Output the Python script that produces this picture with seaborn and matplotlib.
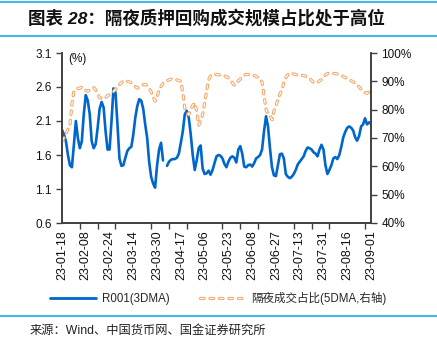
import numpy as np
import pandas as pd
import matplotlib
matplotlib.use("Agg")
import matplotlib.pyplot as plt
import seaborn as sns
from matplotlib.lines import Line2D
from matplotlib.ticker import FuncFormatter

date_labels = ["23-01-18", "23-02-08", "23-02-24", "23-03-14", "23-03-30", "23-04-17",
               "23-05-06", "23-05-23", "23-06-08", "23-06-27", "23-07-13", "23-07-31",
               "23-08-16", "23-09-01"]

r001 = [1.97, 1.90, 1.80, 1.60, 1.45, 1.42, 1.75, 2.10, 1.85, 1.70,
        1.80, 2.20, 2.48, 2.40, 2.20, 1.80, 1.70, 1.76, 2.00, 2.28,
        2.38, 2.30, 1.95, 1.68, 1.68, 2.10, 2.58, 2.52, 2.05, 1.55,
        1.44, 1.45, 1.56, 1.66, 1.70, 1.72, 1.90, 2.15, 2.32, 2.42,
        2.40, 2.28, 2.05, 1.85, 1.50, 1.28, 1.18, 1.12, 1.45, 1.68,
        1.78, 1.52, np.nan, 1.44, 1.50, 1.53, 1.54, 1.54, 1.56, 1.62,
        1.78, 1.95, 2.20, 2.25, 2.15, 1.90, 1.60, 1.38, 1.52, 1.70,
        1.74, 1.40, 1.32, 1.33, 1.37, 1.31, 1.38, 1.48, 1.58, 1.60,
        1.59, 1.55, 1.47, 1.42, 1.50, 1.56, 1.58, 1.56, 1.49, 1.68,
        1.73, 1.62, 1.43, 1.42, 1.45, 1.46, 1.43, 1.48, 1.55, 1.57,
        1.60, 1.68, 1.95, 2.17, 2.02, 1.70, 1.42, 1.30, 1.29, 1.45,
        1.61, 1.62, 1.55, 1.32, 1.28, 1.26, 1.28, 1.32, 1.38, 1.46,
        1.50, 1.54, 1.58, 1.66, 1.71, 1.70, 1.68, 1.64, 1.62, 1.58,
        1.68, 1.75, 1.68, 1.45, 1.32, 1.38, 1.45, 1.55, 1.57, 1.54,
        1.60, 1.72, 1.86, 1.94, 2.00, 2.02, 2.00, 1.96, 1.86, 1.81,
        1.88, 2.02, 2.05, 2.14, 2.05, 2.08, 2.06]

share = [69.0, 70.0, 71.5, 73.0, 74.5, 82.0, 86.5, 87.0, 87.5, 87.6,
         88.0, 87.5, 86.8, 86.5, 87.0, 87.6, 87.8, 87.0, 85.5, 84.2,
         84.0, 83.8, 84.2, 85.0, 85.3, 85.8, 86.4, 87.2, 88.2, 88.8,
         89.5, 90.1, 90.3, 90.0, 89.8, 89.5, 89.0, 88.2, 87.6, 87.8,
         88.3, 88.8, 88.9, 88.5, 87.5, 86.3, 84.5, 83.0, 84.5, 87.0,
         88.2, 89.2, 89.8, 90.2, 90.5, 90.8, 90.9, 90.8, 90.5, 90.3,
         90.0, 86.0, 80.5, 79.0, 78.2, 80.0, 81.5, 82.4, 79.6, 74.5,
         76.0, 78.2, 82.4, 86.5, 90.5, 92.0, 92.4, 92.5, 92.4, 92.3,
         92.2, 92.1, 92.0, 91.6, 91.2, 90.5, 89.5, 88.6, 89.2, 90.2,
         90.8, 91.6, 92.2, 92.4, 92.4, 92.4, 92.3, 92.0, 91.7, 91.4,
         90.8, 89.7, 85.0, 80.0, 78.5, 78.0, 76.5, 79.5, 81.5, 83.5,
         85.5, 87.0, 89.5, 91.2, 92.3, 92.9, 92.8, 92.6, 92.4, 92.3,
         92.2, 92.1, 92.0, 91.8, 91.6, 91.0, 90.3, 89.6, 89.3, 89.6,
         90.2, 90.6, 91.4, 92.2, 92.8, 92.9, 92.9, 92.8, 92.7, 92.6,
         92.4, 92.1, 91.7, 91.3, 91.0, 90.6, 90.2, 89.8, 89.4, 88.8,
         88.0, 87.2, 86.5, 86.0, 85.8, 86.3, 86.8]

BLUE = "#0066CC"
ORANGE = "#F5A25D"
RULE = "#45B8E8"
AXC = "#404040"

sns.set_style("white")
plt.rcParams['font.family'] = ['Liberation Sans', 'Noto Sans CJK SC']
plt.rcParams['lines.scale_dashes'] = False
plt.rcParams['axes.unicode_minus'] = False

W, H = 437, 337
fig = plt.figure(figsize=(W / 100, H / 100), dpi=100)
ax = fig.add_axes([62 / W, 1 - 223 / H, (371 - 62) / W, (223 - 53) / H])
ax2 = ax.twinx()

n = len(r001)
idx = np.arange(n)
seg = np.cumsum(np.isnan(np.array(r001, dtype=float)))
df = pd.DataFrame({"idx": idx, "r001": r001, "share": share, "seg": seg})
dfb = df.dropna(subset=["r001"])

sns.lineplot(data=dfb, x="idx", y="r001", units="seg", estimator=None, ax=ax,
             color=BLUE, linewidth=1.9, legend=False)

dash = (0, (2.6, 4.2))
sns.lineplot(data=df, x="idx", y="share", ax=ax2, color=ORANGE, linewidth=2.3, legend=False)
lo = ax2.lines[-1]
lo.set_linestyle(dash)
lo.set_dash_capstyle("round")
sns.lineplot(data=df, x="idx", y="share", ax=ax2, color="white", linewidth=0.9, legend=False)
lw_ = ax2.lines[-1]
lw_.set_linestyle(dash)
lw_.set_dash_capstyle("round")

ax.set_xlim(0, n - 1)
ax.set_ylim(0.6, 3.1)
ax.set_yticks(np.arange(0.6, 3.11, 0.5))
ax.yaxis.set_major_formatter(FuncFormatter(lambda v, p: f"{v:.1f}"))
ax2.set_ylim(40, 100)
ax2.set_yticks(np.arange(40, 101, 10))
ax2.yaxis.set_major_formatter(FuncFormatter(lambda v, p: f"{int(round(v))}%"))

ax.set_xticks(np.arange(0, n, 12))
ax.set_xticklabels(date_labels, rotation=90)
ax.set_xticks(np.arange(0, n - 2, 9), minor=True)
ax.tick_params(axis="x", which="major", length=0, pad=5, labelsize=9, colors="#111111")
ax.tick_params(axis="x", which="minor", length=4, width=1, color=AXC, direction="out", bottom=True)
ax.tick_params(axis="y", length=4, width=1, color=AXC, direction="out", left=True,
               labelsize=8.5, labelcolor="#111111")
ax2.tick_params(axis="y", length=4, width=1, color=AXC, direction="out", right=True,
                labelsize=8.5, labelcolor="#111111")
ax.set_xlabel("")
ax.set_ylabel("")
ax2.set_ylabel("")

for a in (ax, ax2):
    a.spines["top"].set_visible(False)
    for s in ("left", "right", "bottom"):
        a.spines[s].set_color(AXC)
        a.spines[s].set_linewidth(1.2)

ax.text(0.02, 1.0, "(%)", transform=ax.transAxes, ha="left", va="top", fontsize=8.5, color="#111111")

# legend
h1 = Line2D([], [], color=BLUE, linewidth=2.0)
h2a = Line2D([], [], color=ORANGE, linewidth=2.3, linestyle=dash, dash_capstyle="round")
h2b = Line2D([], [], color="white", linewidth=0.9, linestyle=dash, dash_capstyle="round")
fig.legend([h1, (h2a, h2b)], ["R001(3DMA)", "隔夜成交占比(5DMA,右轴)"],
           loc="center", bbox_to_anchor=(0.5, 1 - 298 / H), ncol=2, frameon=False,
           fontsize=8.3, handlelength=4.0, columnspacing=2.6, handletextpad=0.5)

# title and rules
fig.add_artist(Line2D([0, 1], [1 - 1.5 / H] * 2, color=RULE, linewidth=1.5))
fig.add_artist(Line2D([0, 1], [1 - 36 / H] * 2, color=RULE, linewidth=1.5))
fig.add_artist(Line2D([0, 1], [1 - 316 / H] * 2, color=RULE, linewidth=1.5))
fig.text(28 / W, 1 - 18 / H, "图表 28：隔夜质押回购成交规模占比处于高位", ha="left", va="center",
         fontsize=12.6, fontweight="bold", fontstyle="italic", color="#111111")
fig.text(30 / W, 1 - 331 / H, "来源：Wind、中国货币网、国金证券研究所", ha="left", va="center",
         fontsize=8.8, color="#222222")

fig.savefig("out.png", dpi=100)
